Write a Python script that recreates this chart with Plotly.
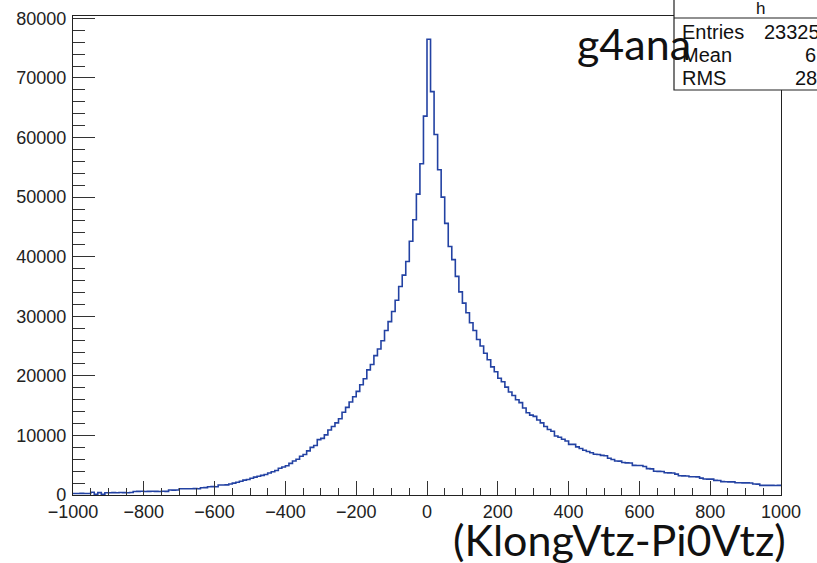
import plotly.graph_objs as go

# histogram: 200 bins of width 10 between -1000 and 1000
bin_lo = -1000
bin_width = 10

counts_left = [
    260, 250, 270, 240, 250, 450, 120, 400, 130,
    380, 390, 400, 390, 410, 400, 390, 410,
    600, 610, 620, 600, 610, 620, 610, 600, 620, 610,
    830, 820, 840,
    1050, 1040, 1060, 1050, 1070, 1060,
    1220, 1230, 1390, 1400, 1380, 1670, 1680, 1700,
    1850, 2000, 2150, 2300, 2500,
    2600, 2800, 3000, 3150, 3300, 3450, 3700, 3900, 4100, 4500,
    4700, 4900, 5300, 5700, 6000, 6500, 6800, 7400, 8000, 8300,
    9300, 9500, 10100, 10900, 11500, 12100, 12800, 13900, 14700, 15600,
    16500, 17400, 18500, 19500, 21000, 21900, 23400, 24500, 25900, 27600,
    29100, 30800, 32700, 35000, 36900, 39200, 42600, 46200, 50500, 55600,
    63600,
]
counts_right = [
    76500, 67700, 60500, 54600, 50000, 45600, 41700, 39500, 36700, 34100,
    32200, 30600, 28900, 27600, 26100, 25000, 23800, 22700, 21500, 20700,
    19600, 19000, 18100, 17300, 16700, 16000, 15500, 14600, 13800, 13400,
    13200, 12600, 12100, 11500, 11000, 10700, 9900, 9700, 9350, 9070,
    8500, 8500, 8070, 7800, 7500, 7300, 7100, 6850, 6800, 6650,
    6600, 6180, 5960, 5700, 5680, 5450, 5400, 5380, 4980, 4960,
    4940, 4790, 4420, 4380, 3980, 3960, 3940, 3740, 3720, 3700,
    3500, 3230, 3210, 3190, 3070, 3060, 3050, 2840, 2680, 2670,
    2660, 2460, 2440, 2240, 2220, 2210, 2200, 2060, 2050, 2040,
    2030, 2020, 1850, 1830, 1620, 1620, 1610, 1620, 1600, 1610,
]
counts = counts_left + counts_right

stat_names = ["Entries", "Mean", "RMS"]
stat_values = ["23325", "6", "28"]

edges = [bin_lo + i * bin_width for i in range(len(counts) + 1)]
ys = counts + [counts[-1]]

W, H = 817, 563
L, R, T, B = 73, 36, 16, 68
pw, ph = W - L - R, H - T - B


def px(x):
    return (x - L) / pw


def py(y):
    return (H - B - y) / ph


fig = go.Figure()
fig.add_trace(go.Scatter(
    x=edges, y=ys, mode="lines", line_shape="hv",
    line=dict(color="#2342a3", width=1.6), showlegend=False, hoverinfo="skip",
))

axis_font = dict(family="Liberation Sans, Arial, sans-serif", size=18, color="#222")

fig.update_layout(
    width=W, height=H,
    margin=dict(l=L, r=R, t=T, b=B, autoexpand=False),
    paper_bgcolor="white", plot_bgcolor="white",
    showlegend=False,
    xaxis=dict(
        range=[-1000, 1000], tick0=-1000, dtick=200, ticks="inside",
        ticklen=14, tickwidth=1.2, tickcolor="#333",
        minor=dict(dtick=50, ticks="inside", ticklen=7, tickwidth=1.2, tickcolor="#333"),
        showgrid=False, zeroline=False, automargin=False,
        showline=True, linecolor="#222", linewidth=1.2, mirror=True,
        tickfont=axis_font,
    ),
    yaxis=dict(
        range=[0, 80400], tick0=0, dtick=10000, ticks="inside", tickformat="d",
        ticklen=22, tickwidth=1.2, tickcolor="#333",
        minor=dict(dtick=2000, ticks="inside", ticklen=12, tickwidth=1.2, tickcolor="#333"),
        showgrid=False, zeroline=False, automargin=False,
        showline=True, linecolor="#222", linewidth=1.2, mirror=True,
        tickfont=axis_font, ticklabelstandoff=2,
    ),
)

# stats box (ROOT style), runs off the right edge of the picture
fig.add_shape(type="rect", xref="paper", yref="paper",
              x0=px(674), x1=px(860), y0=py(90), y1=py(-5),
              line=dict(color="#222", width=1.2), fillcolor="white", layer="above")
fig.add_shape(type="line", xref="paper", yref="paper",
              x0=px(674), x1=px(860), y0=py(18), y1=py(18),
              line=dict(color="#222", width=1.2), layer="above")

stat_font = dict(family="Liberation Sans, Arial, sans-serif", size=20, color="#111")
fig.add_annotation(x=px(760), y=py(9), xref="paper", yref="paper", text="h",
                   showarrow=False, xanchor="center", yanchor="middle",
                   font=dict(family="Liberation Sans, Arial, sans-serif", size=17, color="#111"))
row_y = [32, 55, 78]
val_x = [762, 803, 793]
for name, val, ry, vx in zip(stat_names, stat_values, row_y, val_x):
    fig.add_annotation(x=px(680), y=py(ry), xref="paper", yref="paper", text=name,
                       showarrow=False, xanchor="left", yanchor="middle", font=stat_font)
    fig.add_annotation(x=px(vx), y=py(ry), xref="paper", yref="paper", text=val,
                       showarrow=False, xanchor="left", yanchor="middle", font=stat_font)

big_font = dict(family="Lato, Open Sans, sans-serif", size=43, color="#111")
fig.add_annotation(x=px(575), y=py(43), xref="paper", yref="paper", text="g4ana",
                   showarrow=False, xanchor="left", yanchor="middle", font=big_font)
fig.add_annotation(x=px(788), y=py(539), xref="paper", yref="paper", text="(KlongVtz-Pi0Vtz)",
                   showarrow=False, xanchor="right", yanchor="middle", font=big_font)

fig.write_html("out.html", config={"displayModeBar": False},
               post_script="document.body.style.margin='0';")
